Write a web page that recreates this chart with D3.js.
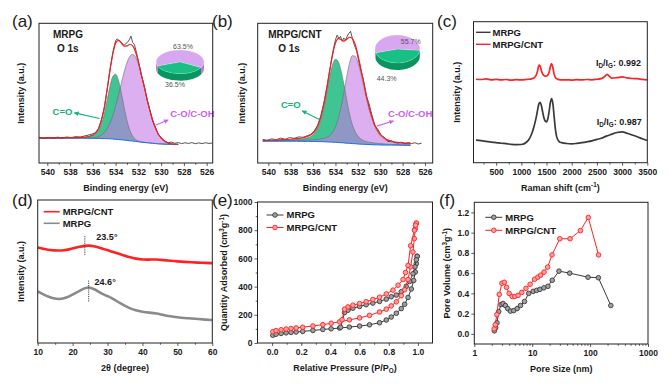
<!DOCTYPE html>
<html>
<head>
<meta charset="utf-8">
<script src="https://cdn.jsdelivr.net/npm/d3@7/dist/d3.min.js"></script>
<style>
  body { margin: 0; background: #fff; }
  svg text { font-family: "Liberation Sans", Arial, sans-serif; }
</style>
</head>
<body>
<svg id="fig" width="668" height="386"></svg>
<script>
// ---------- (a) XPS O 1s, MRPG ----------
var beA = [540.7, 540, 539, 538, 537.5, 537, 536.5, 536, 535.75, 535.5, 535.25, 535, 534.75, 534.5, 534.25, 534, 533.75, 533.5, 533.25, 533, 532.75, 532.5, 532.25, 532, 531.75, 531.5, 531.25, 531, 530.75, 530.5, 530.25, 530, 529.5, 529, 528.5];
var bgA = [17.8, 17.8, 17.8, 17.8, 17.8, 17.8, 17.7, 17.7, 17.6, 17.6, 17.5, 17.5, 17.4, 17.3, 17.2, 17.0, 16.8, 16.6, 16.4, 16.2, 15.9, 15.7, 15.4, 15.2, 14.9, 14.7, 14.5, 14.3, 14.1, 13.9, 13.7, 13.6, 13.4, 13.3, 13.2];
var coA = [17.9, 18.0, 18.0, 18.1, 18.2, 18.3, 18.7, 19.7, 20.8, 23.1, 28.0, 35.1, 44.9, 54.8, 61.9, 63.6, 59.2, 50.3, 39.8, 30.4, 23.4, 19.2, 16.8, 15.7, 15.1, 14.8, 14.6, 14.4, 14.2, 14.0, 13.8, 13.7, 13.5, 13.4, 13.3];
var cohA = [17.8, 17.8, 17.8, 17.8, 17.8, 17.8, 17.8, 18.0, 18.3, 18.9, 19.9, 21.8, 24.5, 28.5, 33.9, 40.6, 48.5, 57.0, 65.1, 71.9, 76.3, 77.7, 75.8, 70.9, 63.6, 55.1, 46.2, 37.9, 30.8, 25.1, 20.8, 17.9, 14.7, 13.6, 13.3];
var fitA = [17.9, 18.0, 18.0, 18.1, 18.2, 18.3, 18.8, 20.0, 21.5, 24.4, 30.4, 39.4, 52.0, 66.0, 78.0, 85.8, 87.8, 86.0, 83.6, 83.8, 85.0, 83.8, 79.5, 72.5, 63.8, 55.1, 46.2, 37.9, 30.8, 25.1, 20.8, 17.9, 14.7, 13.6, 13.3];
var rawBeA = [540.7, 540.3, 539.9, 539.5, 539.1, 538.7, 538.3, 537.9, 537.5, 537.1, 536.7, 536.3, 536, 535.75, 535.5, 535.25, 535, 534.75, 534.5, 534.25, 534, 533.85, 533.7, 533.55, 533.4, 533.25, 533.1, 532.95, 532.8, 532.65, 532.5, 532.35, 532.2, 532, 531.75, 531.5, 531.25, 531, 530.75, 530.5, 530.25, 530, 529.7, 529.4, 529.1, 528.8, 528.5, 528.2, 527.9, 527.6, 527.3, 527, 526.7, 526.4, 526.1, 525.8, 525.5];
var rawA = [18.4, 17.6, 18.3, 17.7, 18.5, 17.9, 18.6, 18.2, 18.9, 18.6, 19.4, 20.2, 20.9, 21.9, 24.8, 30.9, 39.1, 52.4, 66.4, 78.6, 87.5, 88.9, 87.6, 86.9, 85.2, 84.1, 85.6, 86.4, 88.2, 90.8, 86.3, 84.9, 80.1, 73.2, 63.1, 55.9, 45.7, 38.4, 30.2, 25.6, 20.4, 18.2, 15.5, 14.6, 14.9, 14.1, 14.6, 13.9, 14.5, 14.0, 14.6, 13.8, 14.4, 13.9, 14.5, 14.0, 14.3];
var pieA = [36.5, 63.5];

// ---------- (b) XPS O 1s, MRPG/CNT ----------
var beB = [540.5, 540, 539, 538, 537.5, 537, 536.5, 536, 535.75, 535.5, 535.25, 535, 534.75, 534.5, 534.25, 534, 533.75, 533.5, 533.25, 533, 532.75, 532.5, 532.25, 532, 531.75, 531.5, 531.25, 531, 530.75, 530.5, 530.25, 530, 529.5, 529, 528, 527.3];
var bgB = [15.6, 15.6, 15.6, 15.6, 15.6, 15.5, 15.5, 15.4, 15.4, 15.3, 15.3, 15.2, 15.1, 15.0, 14.9, 14.8, 14.7, 14.5, 14.4, 14.2, 14.1, 13.9, 13.8, 13.6, 13.5, 13.4, 13.3, 13.2, 13.1, 13.0, 13.0, 12.9, 12.8, 12.8, 12.7, 12.6];
var coB = [16.0, 16.0, 16.2, 16.5, 16.8, 17.1, 18.0, 20.2, 22.7, 26.7, 32.9, 41.1, 51.0, 62.0, 70.5, 74.2, 72.5, 66.0, 56.5, 45.5, 35.3, 27.7, 22.6, 19.3, 17.3, 16.1, 15.4, 14.9, 14.6, 14.3, 14.1, 13.9, 13.6, 13.4, 13.1, 13.0];
var cohB = [15.8, 15.9, 16.0, 16.1, 16.2, 16.3, 16.5, 16.6, 16.8, 16.9, 17.3, 17.7, 18.4, 19.7, 22.1, 26.0, 32.0, 40.2, 50.5, 61.5, 71.3, 76.8, 76.5, 71.9, 64.5, 55.7, 46.8, 38.5, 31.7, 26.3, 22.3, 19.5, 16.4, 15.0, 14.0, 13.6];
var fitB = [16.1, 16.3, 16.6, 17.0, 17.4, 17.9, 19.0, 21.4, 24.1, 28.3, 34.9, 43.6, 54.3, 66.5, 77.8, 85.8, 89.0, 88.4, 87.2, 88.5, 90.0, 89.2, 85.3, 77.6, 68.3, 58.4, 48.9, 40.2, 33.2, 27.6, 23.4, 20.5, 17.2, 15.6, 14.4, 14.0];
var rawBeB = [540.5, 540.1, 539.7, 539.3, 538.9, 538.5, 538.1, 537.7, 537.3, 536.9, 536.5, 536.2, 535.9, 535.6, 535.3, 535, 534.75, 534.5, 534.25, 534, 533.85, 533.7, 533.55, 533.4, 533.25, 533.1, 532.95, 532.8, 532.65, 532.5, 532.3, 532.1, 531.9, 531.7, 531.5, 531.25, 531, 530.75, 530.5, 530.2, 529.9, 529.6, 529.3, 529, 528.7, 528.4, 528.1, 527.8, 527.5, 527.2, 526.9, 526.6, 526.3];
var rawB = [16.9, 16.2, 17.3, 16.6, 17.8, 17.0, 18.2, 17.6, 18.7, 18.4, 19.6, 20.5, 22.9, 26.9, 33.8, 44.5, 55.1, 67.3, 78.9, 88.2, 91.5, 89.3, 90.6, 87.1, 89.4, 88.0, 90.8, 92.9, 94.2, 89.5, 84.2, 79.9, 72.1, 65.4, 59.6, 48.3, 42.4, 34.6, 27.0, 23.9, 19.7, 18.1, 15.3, 15.9, 14.6, 14.3, 14.9, 13.8, 14.6, 13.9, 14.5, 13.6, 14.2];
var pieB = [44.3, 55.7];

// ---------- (c) Raman ----------
var ramanX = [100, 200, 300, 400, 500, 600, 700, 800, 900, 1000, 1100, 1150, 1200, 1250, 1300, 1325, 1350, 1375, 1400, 1425, 1450, 1475, 1500, 1525, 1550, 1575, 1600, 1625, 1650, 1675, 1700, 1750, 1800, 1900, 2000, 2100, 2200, 2300, 2400, 2500, 2600, 2650, 2700, 2750, 2800, 2900, 3000, 3100, 3200, 3300, 3400, 3500];
var ramanMRPG = [16.0, 15.6, 15.1, 14.6, 14.3, 13.8, 13.5, 13.0, 12.8, 12.9, 14.5, 16.5, 20.0, 25.5, 33.0, 38.0, 42.0, 42.8, 40.0, 35.5, 31.5, 29.5, 29.0, 31.0, 36.0, 42.5, 45.5, 42.0, 33.0, 24.0, 18.5, 15.0, 14.2, 13.6, 13.4, 13.7, 14.2, 14.8, 15.5, 16.5, 17.5, 18.3, 19.0, 19.6, 20.3, 21.4, 21.8, 20.9, 19.6, 18.4, 17.0, 15.7];
var ramanCNT = [59.2, 59.0, 59.4, 58.8, 59.1, 58.7, 59.0, 58.6, 58.9, 58.7, 59.0, 59.2, 59.5, 60.0, 62.5, 65.5, 69.2, 68.5, 65.0, 62.8, 61.8, 61.4, 61.5, 62.2, 64.0, 68.0, 70.3, 67.5, 63.0, 60.5, 59.6, 58.9, 58.7, 58.8, 58.6, 58.9, 58.7, 59.0, 58.8, 59.2, 59.8, 61.0, 62.6, 61.2, 60.0, 60.3, 60.8, 60.2, 59.7, 59.6, 59.1, 58.8];
var idigText = ["0.992", "0.987"];

// ---------- (d) XRD ----------
var xrdX = [10, 11.5, 13, 14.5, 16, 17.5, 19, 20.5, 22, 23.5, 24.6, 26, 27.5, 29, 30.5, 31, 32, 33.5, 35, 36.5, 38, 40, 42, 44, 46, 48, 50, 52, 54, 56, 58, 60];
var xrdCNT = [64.5, 63.6, 62.9, 62.5, 62.4, 62.6, 63.2, 64.1, 65.0, 65.7, 65.9, 65.5, 64.6, 63.4, 62.3, 61.9, 61.2, 60.1, 58.9, 57.8, 57.0, 56.3, 56.3, 56.5, 56.0, 55.5, 55.1, 54.8, 54.5, 54.3, 54.1, 53.9];
var xrdMRPG = [34.8, 33.0, 31.3, 30.2, 29.6, 30.0, 31.4, 33.3, 35.3, 37.0, 37.9, 36.6, 34.6, 32.6, 31.2, 30.6, 29.2, 27.0, 25.0, 23.3, 22.0, 21.0, 20.5, 20.0, 18.8, 18.0, 17.4, 16.9, 16.6, 16.2, 15.8, 15.5];
var xrdPeaks = [23.5, 24.6];

// ---------- (e) N2 isotherms ----------
var mrpgAdsP = [0.005, 0.027, 0.062, 0.096, 0.13, 0.165, 0.21, 0.28, 0.348, 0.405, 0.463, 0.53, 0.6, 0.668, 0.737, 0.783, 0.817, 0.852, 0.886, 0.909, 0.932, 0.955, 0.971, 0.982, 0.989, 0.995];
var mrpgAdsV = [55, 62, 68, 72, 75, 78, 82, 89, 96, 101, 106, 113, 120, 129, 144, 163, 184, 211, 244, 275, 323, 383, 443, 503, 563, 615];
var mrpgDesP = [0.995, 0.989, 0.98, 0.966, 0.943, 0.92, 0.886, 0.852, 0.817, 0.783, 0.737, 0.691, 0.645, 0.6, 0.554, 0.52, 0.497, 0.47];
var mrpgDesV = [615, 590, 540, 491, 436, 402, 364, 340, 328, 311, 295, 283, 271, 259, 247, 232, 216, 112];
var cntAdsP = [0.005, 0.027, 0.062, 0.096, 0.13, 0.165, 0.21, 0.28, 0.348, 0.405, 0.463, 0.53, 0.6, 0.668, 0.737, 0.783, 0.817, 0.852, 0.886, 0.909, 0.932, 0.95, 0.966, 0.975, 0.982, 0.989];
var cntAdsV = [80, 88, 94, 99, 103, 107, 112, 121, 130, 140, 150, 164, 178, 196, 220, 240, 263, 292, 335, 378, 450, 540, 645, 740, 810, 850];
var cntDesP = [0.989, 0.984, 0.976, 0.95, 0.932, 0.915, 0.898, 0.864, 0.829, 0.783, 0.737, 0.691, 0.645, 0.6, 0.554, 0.52, 0.497, 0.48];
var cntDesV = [850, 835, 800, 690, 550, 500, 450, 410, 375, 348, 325, 308, 293, 280, 268, 256, 240, 165];

// ---------- (f) pore size distribution ----------
var mrpgPoreD = [2.22, 2.34, 2.47, 2.64, 2.9, 3.14, 3.45, 3.78, 4.21, 4.8, 5.5, 6.27, 7.36, 8.7, 10.4, 11.9, 13.6, 15.9, 18.7, 22.2, 29, 44.4, 92, 139, 228];
var mrpgPoreV = [0.03, 0.06, 0.11, 0.22, 0.29, 0.30, 0.28, 0.25, 0.225, 0.23, 0.25, 0.28, 0.32, 0.40, 0.42, 0.43, 0.44, 0.455, 0.47, 0.53, 0.62, 0.60, 0.56, 0.555, 0.28];
var cntPoreD = [2.2, 2.3, 2.45, 2.7, 3.0, 3.3, 3.6, 4.0, 4.5, 5.0, 5.7, 6.6, 7.8, 9.2, 11, 12.5, 14, 16, 18.5, 22, 30, 45, 68, 93, 140];
var cntPoreV = [0.05, 0.09, 0.19, 0.39, 0.50, 0.51, 0.46, 0.40, 0.37, 0.37, 0.38, 0.41, 0.45, 0.49, 0.54, 0.56, 0.58, 0.61, 0.66, 0.78, 0.94, 0.94, 1.02, 1.15, 0.78];

var seriesNames = ["MRPG", "MRPG/CNT"];

var svg = d3.select("#fig");
var ink = "#1a1a1a";
var red = "#ff2222";
var dark = "#3a3a3a";
var greenFill = "#00b070", purpleFill = "#c47ae6";
var greenText = "#12b474", purpleText = "#c664e8";
var defs = svg.append("defs");
var clipCount = 0;

function arrowMarker(id, color) {
    defs.append("marker")
        .attr("id", id)
        .attr("viewBox", "0 0 10 10")
        .attr("refX", 8).attr("refY", 5)
        .attr("markerWidth", 4.5).attr("markerHeight", 4.5)
        .attr("orient", "auto")
      .append("path")
        .attr("d", "M0,0.5L10,5L0,9.5z")
        .attr("fill", color);
}
arrowMarker("arrG", greenText);
arrowMarker("arrP", purpleText);

// text with optional sub/superscript pieces
function label(g, x, y, parts, opt) {
    opt = opt || {};
    var size = opt.size || 9;
    var t = g.append("text")
        .attr("x", x).attr("y", y)
        .attr("text-anchor", opt.anchor || "start")
        .style("font-size", size + "px")
        .style("font-weight", opt.weight || "bold")
        .attr("fill", opt.color || ink);
    if (opt.rotate) t.attr("transform", "rotate(-90," + x + "," + y + ")");
    if (opt.dy) t.attr("dy", opt.dy);
    var cur = 0;
    parts.forEach(function (p) {
        var txt = typeof p === "string" ? p : p[0];
        var kind = typeof p === "string" ? "" : p[1];
        var target = kind === "sup" ? -0.38 * size : kind === "sub" ? 0.25 * size : 0;
        var ts = t.append("tspan").attr("dy", target - cur).text(txt);
        if (kind) ts.style("font-size", (size * 0.7) + "px");
        cur = target;
    });
    return t;
}

function styleAxis(sel) {
    sel.attr("font-family", null).attr("font-size", null);
    sel.select(".domain").remove();
    sel.selectAll("line").attr("stroke", "#333").attr("stroke-width", 0.8);
    sel.selectAll("text")
        .attr("fill", ink)
        .style("font-size", "8.5px")
        .style("font-weight", "bold");
}

function axes(g, x, y, box, o) {
    var bx = g.append("g")
        .attr("transform", "translate(0," + box.y1 + ")")
        .call(d3.axisBottom(x).tickValues(o.xt).tickFormat(o.xf || (d => d)).tickSize(3).tickPadding(3));
    styleAxis(bx);
    if (o.xm) {
        var mx = g.append("g")
            .attr("transform", "translate(0," + box.y1 + ")")
            .call(d3.axisBottom(x).tickValues(o.xm).tickFormat(() => "").tickSize(1.8));
        styleAxis(mx);
    }
    if (o.yt) {
        var ly = g.append("g")
            .attr("transform", "translate(" + box.x0 + ",0)")
            .call(d3.axisLeft(y).tickValues(o.yt).tickFormat(o.yf || (d => d)).tickSize(3).tickPadding(2));
        styleAxis(ly);
    }
    if (o.ym) {
        var my = g.append("g")
            .attr("transform", "translate(" + box.x0 + ",0)")
            .call(d3.axisLeft(y).tickValues(o.ym).tickFormat(() => "").tickSize(1.8));
        styleAxis(my);
    }
    g.append("rect")
        .attr("x", box.x0).attr("y", box.y0)
        .attr("width", box.x1 - box.x0).attr("height", box.y1 - box.y0)
        .attr("fill", "none").attr("stroke", "#222").attr("stroke-width", 1);
}

function clipFor(g, box) {
    var id = "clip" + (clipCount++);
    defs.append("clipPath").attr("id", id)
      .append("rect")
        .attr("x", box.x0).attr("y", box.y0)
        .attr("width", box.x1 - box.x0).attr("height", box.y1 - box.y0);
    return g.append("g").attr("clip-path", "url(#" + id + ")");
}

function titles(g, box, xParts, yParts, yOff) {
    label(g, (box.x0 + box.x1) / 2, box.y1 + 28, xParts, { anchor: "middle", size: 9 });
    label(g, box.x0 - yOff, (box.y0 + box.y1) / 2, yParts, { anchor: "middle", size: 9, rotate: true, dy: "0.35em" });
}

function panelLetter(x, y, s) {
    svg.append("text")
        .attr("x", x).attr("y", y)
        .style("font-size", "17px")
        .attr("fill", ink)
        .text(s);
}

// tilted 3-D pie inset
function drawPie(g, cx, cy, geo, pcts, start, tops, sides) {
    var rad = Math.PI / 180;
    var pt = a => [cx + geo.rx * Math.cos(a * rad), cy - geo.ry * Math.sin(a * rad)];
    var a0 = start, slices = [];
    pcts.forEach(function (p, i) {
        var a1 = a0 + p * 3.6;
        slices.push([a0, a1, i]);
        a0 = a1;
    });
    slices.forEach(function (s) {
        [[180, 360], [540, 720]].forEach(function (r) {
            var lo = Math.max(s[0], r[0]), hi = Math.min(s[1], r[1]);
            if (hi <= lo) return;
            var p0 = pt(lo), p1 = pt(hi);
            var d = "M" + p0 + "A" + geo.rx + "," + geo.ry + " 0 0 0 " + p1 +
                "L" + p1[0] + "," + (p1[1] + geo.depth) +
                "A" + geo.rx + "," + geo.ry + " 0 0 1 " + p0[0] + "," + (p0[1] + geo.depth) + "Z";
            g.append("path").attr("d", d).attr("fill", sides[s[2]]);
        });
    });
    slices.forEach(function (s) {
        var p0 = pt(s[0]), p1 = pt(s[1]);
        var large = (s[1] - s[0]) > 180 ? 1 : 0;
        g.append("path")
            .attr("d", "M" + cx + "," + cy + "L" + p0 + "A" + geo.rx + "," + geo.ry + " 0 " + large + " 0 " + p1 + "Z")
            .attr("fill", tops[s[2]])
            .attr("stroke", "#ffffff").attr("stroke-opacity", 0.35).attr("stroke-width", 0.5);
    });
    pcts.forEach(function (p, i) {
        g.append("text")
            .attr("x", cx + geo.lab[i][0]).attr("y", cy + geo.lab[i][1])
            .attr("text-anchor", "middle")
            .style("font-size", "7px")
            .attr("fill", "#555")
            .text(p.toFixed(1) + "%");
    });
}

function drawXps(box, dom, d) {
    var g = svg.append("g");
    var x = d3.scaleLinear().domain(dom).range([box.x0, box.x1]);
    var y = d3.scaleLinear().domain([0, 100]).range([box.y1, box.y0]);
    var plot = clipFor(g, box);

    var comp = d3.area()
        .x((v, i) => x(d.be[i]))
        .y0((v, i) => y(d.bg[i]))
        .y1(v => y(v))
        .curve(d3.curveMonotoneX);
    var line = d3.line()
        .x((v, i) => x(d.be[i]))
        .y(v => y(v))
        .curve(d3.curveMonotoneX);

    plot.append("path").attr("d", comp(d.co)).attr("fill", greenFill).attr("fill-opacity", 0.75);
    plot.append("path").attr("d", comp(d.coh)).attr("fill", purpleFill).attr("fill-opacity", 0.6);
    [d.co, d.coh].forEach(function (vals) {
        plot.append("path").attr("d", line(vals))
            .attr("fill", "none").attr("stroke", "#6d6d6d").attr("stroke-width", 0.6);
    });
    plot.append("path").attr("d", line(d.bg))
        .attr("fill", "none").attr("stroke", "#1e6fe6").attr("stroke-width", 1);
    plot.append("path")
        .attr("d", d3.line().x((v, i) => x(d.rawBe[i])).y(v => y(v))(d.raw))
        .attr("fill", "none").attr("stroke", "#2a2a2a").attr("stroke-width", 0.8);
    plot.append("path").attr("d", line(d.fit))
        .attr("fill", "none").attr("stroke", "#ee2020").attr("stroke-width", 1.2);

    drawPie(g, x(d.pie.at[0]), y(d.pie.at[1]), d.pie.geo, d.pie.pcts, d.pie.start,
        ["#19c085", "#d9a6f1"], ["#0a9460", "#b877d8"]);

    // component labels and arrows
    g.append("line")
        .attr("x1", x(d.coArrow[0])).attr("y1", y(d.coArrow[1]))
        .attr("x2", x(d.coArrow[2])).attr("y2", y(d.coArrow[3]))
        .attr("stroke", greenText).attr("stroke-width", 1.1).attr("marker-end", "url(#arrG)");
    label(g, x(d.coText[0]), y(d.coText[1]), ["C=O"], { anchor: "end", size: 9.5, color: greenText });
    g.append("line")
        .attr("x1", x(d.cohArrow[0])).attr("y1", y(d.cohArrow[1]))
        .attr("x2", x(d.cohArrow[2])).attr("y2", y(d.cohArrow[3]))
        .attr("stroke", purpleText).attr("stroke-width", 1.1).attr("marker-end", "url(#arrP)");
    label(g, x(d.cohText[0]), y(d.cohText[1]), ["C-O/C-OH"], { size: 9.5, color: purpleText });

    label(g, box.x0 + d.nameOff, box.y0 + 15, [d.name], { size: 10 });
    label(g, box.x0 + d.nameOff + d.o1sOff, box.y0 + 29, ["O 1s"], { size: 10 });

    axes(g, x, y, box, {
        xt: [540, 538, 536, 534, 532, 530, 528, 526],
        xm: [541, 539, 537, 535, 533, 531, 529, 527].filter(v => v <= dom[0] && v >= dom[1])
    });
    titles(g, box, ["Binding energy (eV)"], ["Intensity (a.u.)"], d.yOff);
}

// ---------- panels (a) & (b) ----------
drawXps({ x0: 39, x1: 212.7, y0: 23.3, y1: 163 }, [540.73, 525.47], {
    be: beA, bg: bgA, co: coA, coh: cohA, fit: fitA, rawBe: rawBeA, raw: rawA,
    pie: { at: [528.34, 72.4], pcts: pieA, start: 200,
           geo: { rx: 24, ry: 11.8, depth: 7, lab: [[-5, 25.5], [3, -12.8]] } },
    coArrow: [535.4, 31.9, 537.6, 35.9], coText: [537.8, 34.6],
    cohArrow: [530.5, 27.1, 529.4, 30.7], cohText: [529.2, 32.6],
    name: "MRPG", nameOff: 14, o1sOff: 4, yOff: 15
});
drawXps({ x0: 257.7, x1: 432.7, y0: 23.3, y1: 163 }, [540.95, 525.31], {
    be: beB, bg: bgB, co: coB, coh: cohB, fit: fitB, rawBe: rawBeB, raw: rawB,
    pie: { at: [528.46, 81.6], pcts: pieB, start: 195,
           geo: { rx: 22.5, ry: 14, depth: 7, lab: [[-10.8, 32], [13.3, -5.5]] } },
    coArrow: [535.44, 31.2, 536.95, 37.2], coText: [537.1, 39.2],
    cohArrow: [530.31, 26.4, 528.83, 30.0], cohText: [529.3, 32.6],
    name: "MRPG/CNT", nameOff: 10.5, o1sOff: 10, yOff: 12.7
});

// ---------- (c) Raman ----------
(function () {
    var box = { x0: 473.5, x1: 647.3, y0: 21.7, y1: 162.7 };
    var g = svg.append("g");
    var x = d3.scaleLinear().domain([50, 3500]).range([box.x0, box.x1]);
    var y = d3.scaleLinear().domain([0, 100]).range([box.y1, box.y0]);
    var plot = clipFor(g, box);
    var line = vals => d3.line().x((v, i) => x(ramanX[i])).y(v => y(v)).curve(d3.curveMonotoneX)(vals);
    plot.append("path").attr("d", line(ramanMRPG))
        .attr("fill", "none").attr("stroke", dark).attr("stroke-width", 1.7);
    plot.append("path").attr("d", line(ramanCNT))
        .attr("fill", "none").attr("stroke", red).attr("stroke-width", 1.7);

    [[2481, 68.6], [2495, 26.7]].forEach(function (p, i) {
        label(g, x(p[0]), y(p[1]), ["I", ["D", "sub"], "/I", ["G", "sub"], ": " + idigText[i]], { size: 9 });
    });

    [dark, red].forEach(function (c, i) {
        var ry = box.y0 + 10.6 + i * 12;
        g.append("line").attr("x1", box.x0 + 2.5).attr("x2", box.x0 + 17)
            .attr("y1", ry).attr("y2", ry).attr("stroke", c).attr("stroke-width", 1.4);
        label(g, box.x0 + 19, ry + 3.4, [seriesNames[i]], { size: 9.5 });
    });

    axes(g, x, y, box, {
        xt: [500, 1000, 1500, 2000, 2500, 3000, 3500],
        xm: [250, 750, 1250, 1750, 2250, 2750, 3250]
    });
    titles(g, box, ["Raman shift (cm", ["-1", "sup"], ")"], ["Intensity (a.u.)"], 13.5);
})();

// ---------- (d) XRD ----------
(function () {
    var box = { x0: 37.7, x1: 212.3, y0: 200, y1: 343 };
    var g = svg.append("g");
    var x = d3.scaleLinear().domain([10, 60]).range([box.x0, box.x1]);
    var y = d3.scaleLinear().domain([0, 96.6]).range([box.y1, box.y0]);
    var plot = clipFor(g, box);
    var line = vals => d3.line().x((v, i) => x(xrdX[i])).y(v => y(v)).curve(d3.curveBasis)(vals);
    plot.append("path").attr("d", line(xrdCNT))
        .attr("fill", "none").attr("stroke", red).attr("stroke-width", 2.6);
    plot.append("path").attr("d", line(xrdMRPG))
        .attr("fill", "none").attr("stroke", "#8a8a8a").attr("stroke-width", 2.6);

    // peak markers
    var marks = [[xrdPeaks[0], 59.5, 73, 26.8, 69.7], [xrdPeaks[1], 28, 42.7, 26.3, 39.3]];
    marks.forEach(function (m) {
        g.append("line")
            .attr("x1", x(m[0])).attr("x2", x(m[0]))
            .attr("y1", y(m[1])).attr("y2", y(m[2]))
            .attr("stroke", "#444").attr("stroke-width", 1).attr("stroke-dasharray", "1.2,1");
        label(g, x(m[3]), y(m[4]), [m[0].toFixed(1) + "°"], { size: 9 });
    });

    [red, "#8a8a8a"].forEach(function (c, i) {
        var ry = box.y0 + 11.7 + i * 11.6;
        g.append("line").attr("x1", box.x0 + 6).attr("x2", box.x0 + 22)
            .attr("y1", ry).attr("y2", ry).attr("stroke", c).attr("stroke-width", 1.6);
        label(g, box.x0 + 25, ry + 3.4, [seriesNames[1 - i]], { size: 9.5 });
    });

    axes(g, x, y, box, {
        xt: [10, 20, 30, 40, 50, 60],
        xm: [15, 25, 35, 45, 55]
    });
    titles(g, box, ["2θ (degree)"], ["Intensity (a.u.)"], 13.7);
})();

// ---------- (e) isotherms ----------
function drawMarked(plot, x, y, xs, ys, stroke, fill) {
    plot.append("path")
        .attr("d", d3.line().x((v, i) => x(xs[i])).y(v => y(v))(ys))
        .attr("fill", "none").attr("stroke", stroke).attr("stroke-width", 1);
    plot.selectAll(null).data(ys).enter().append("circle")
        .attr("cx", (v, i) => x(xs[i]))
        .attr("cy", v => y(v))
        .attr("r", 2.3)
        .attr("fill", fill).attr("stroke", stroke).attr("stroke-width", 0.9);
}

function legendMarked(g, box, dx, rows, items) {
    items.forEach(function (it, i) {
        var ry = box.y0 + rows[i];
        g.append("line").attr("x1", box.x0 + dx).attr("x2", box.x0 + dx + 17)
            .attr("y1", ry).attr("y2", ry).attr("stroke", it[0]).attr("stroke-width", 1);
        g.append("circle").attr("cx", box.x0 + dx + 8.5).attr("cy", ry).attr("r", 2.3)
            .attr("fill", it[1]).attr("stroke", it[0]).attr("stroke-width", 0.9);
        label(g, box.x0 + dx + 20, ry + 3.4, [seriesNames[i]], { size: 9.5 });
    });
}

(function () {
    var box = { x0: 257.5, x1: 432.5, y0: 202, y1: 343 };
    var g = svg.append("g");
    var x = d3.scaleLinear().domain([-0.1, 1.1]).range([box.x0, box.x1]);
    var y = d3.scaleLinear().domain([0, 1000]).range([box.y1, box.y0]);
    var plot = clipFor(g, box);
    drawMarked(plot, x, y, mrpgAdsP, mrpgAdsV, dark, "#a0a0a0");
    drawMarked(plot, x, y, mrpgDesP, mrpgDesV, dark, "#a0a0a0");
    drawMarked(plot, x, y, cntAdsP, cntAdsV, red, "#ffa0a0");
    drawMarked(plot, x, y, cntDesP, cntDesV, red, "#ffa0a0");
    legendMarked(g, box, 9, [13, 25.5], [[dark, "#a0a0a0"], [red, "#ffa0a0"]]);
    axes(g, x, y, box, {
        xt: [0, 0.2, 0.4, 0.6, 0.8, 1.0], xf: d3.format(".1f"),
        xm: [0.1, 0.3, 0.5, 0.7, 0.9],
        yt: [0, 200, 400, 600, 800, 1000],
        ym: [100, 300, 500, 700, 900]
    });
    titles(g, box, ["Relative Pressure (P/P", ["O", "sub"], ")"],
        ["Quantity Adsorbed (cm", ["3", "sup"], "g", ["-1", "sup"], ")"], 30.5);
})();

// ---------- (f) pore size distribution ----------
(function () {
    var box = { x0: 474.3, x1: 648, y0: 202.3, y1: 344 };
    var g = svg.append("g");
    var x = d3.scaleLog().domain([1, 1000]).range([box.x0, box.x1]);
    var y = d3.scaleLinear().domain([-0.1, 1.3]).range([box.y1, box.y0]);
    var plot = clipFor(g, box);
    drawMarked(plot, x, y, mrpgPoreD, mrpgPoreV, dark, "#a0a0a0");
    drawMarked(plot, x, y, cntPoreD, cntPoreV, red, "#ffa0a0");
    legendMarked(g, box, 11, [15, 28], [[dark, "#a0a0a0"], [red, "#ffa0a0"]]);
    axes(g, x, y, box, {
        xt: [1, 10, 100, 1000], xf: d3.format("d"),
        xm: [2, 3, 4, 5, 6, 7, 8, 9, 20, 30, 40, 50, 60, 70, 80, 90, 200, 300, 400, 500, 600, 700, 800, 900],
        yt: [0, 0.2, 0.4, 0.6, 0.8, 1.0, 1.2], yf: d3.format(".1f")
    });
    titles(g, box, ["Pore Size (nm)"], ["Pore Volume (cm", ["3", "sup"], "g", ["-1", "sup"], ")"], 24.3);
})();

panelLetter(12, 27, "(a)");
panelLetter(212, 27, "(b)");
panelLetter(437, 27, "(c)");
panelLetter(12, 206, "(d)");
panelLetter(212, 206, "(e)");
panelLetter(439, 206, "(f)");
</script>
</body>
</html>
